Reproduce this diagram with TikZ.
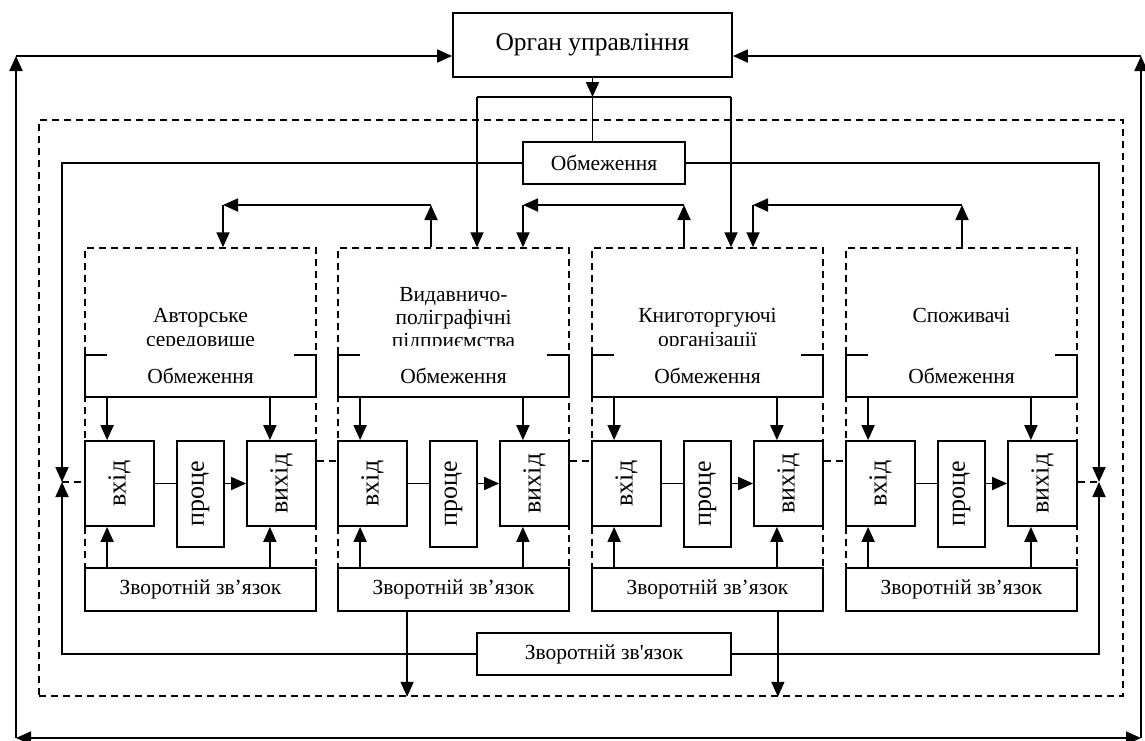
\documentclass[tikz,border=0pt]{standalone}
\usepackage{fontspec}
\setmainfont{Liberation Serif}
\newfontfamily\plainserif{Liberation Serif}
\usetikzlibrary{arrows.meta,calc}
\begin{document}
\begin{tikzpicture}[x=1pt,y=-1pt,
  ln/.style={line width=1.8pt},
  arr/.style={ln,-{Triangle[length=15pt,width=13pt]}},
  dbl/.style={ln,{Triangle[length=15pt,width=13pt]}-{Triangle[length=15pt,width=13pt]}},
  dsh/.style={line width=1.5pt,dash pattern=on 7pt off 5pt},
  box/.style={draw,line width=1.8pt,fill=white,inner sep=0pt,align=center,font=\fontsize{21.5}{24}\selectfont},
  vbox/.style={box,font=\fontsize{26}{28}\selectfont},
  title/.style={anchor=base,inner sep=0pt,font=\fontsize{21.5}{24}\selectfont},
]
\useasboundingbox (0,0) rectangle (1145,740);
% outer system boundary
\node[dsh,draw,minimum width=1084pt,minimum height=576pt,inner sep=0pt] (sys) at (581,408) {};
% control body
\node[box,minimum width=279pt,minimum height=64pt,font=\fontsize{25.5}{28}\selectfont] (organ) at (592.5,45) {Орган управління};
\node[box,minimum width=162pt,minimum height=42pt] (obm) at (604,163) {Обмеження};
\node[box,minimum width=254pt,minimum height=42pt] (zvb) at (604,654) {\plainserif Зворотній зв'язок};
% columns
\foreach \i/\L in {1/85,2/338,3/592,4/846}{
  \node[dsh,draw,minimum width=231pt,minimum height=363pt,inner sep=0pt] (col\i) at (\L+115.5,429.5) {};
  \node[box,minimum width=231pt,minimum height=42pt] (obm\i) at (\L+115.5,376) {Обмеження};
  \node[box,minimum width=231pt,minimum height=43pt] (zv\i) at (\L+115.5,589.5) {Зворотній зв’язок};
  \node[vbox,minimum width=69pt,minimum height=85pt] (vh\i) at (\L+34.5,483.5) {\rotatebox{90}{вхід}};
  \node[vbox,minimum width=47pt,minimum height=106pt] (pr\i) at (\L+115.5,494) {\rotatebox{90}{проце}};
  \node[vbox,minimum width=69pt,minimum height=85pt] (vy\i) at (\L+196.5,483.5) {\rotatebox{90}{вихід}};
  \fill[white] (\L+22,258) rectangle (\L+209,356.8);
  \draw[arr] ([xshift=23pt]obm\i.south west) -- ([xshift=23pt]vh\i.north west);
  \draw[arr] ([xshift=-47pt]obm\i.south east) -- ([xshift=-47pt]vy\i.north east);
  \draw[arr] ([xshift=23pt]zv\i.north west) -- ([xshift=23pt]vh\i.south west);
  \draw[arr] ([xshift=-47pt]zv\i.north east) -- ([xshift=-47pt]vy\i.south east);
  \draw[ln] (vh\i.east) -- (vh\i.east -| pr\i.west);
  \draw[arr] (pr\i.east |- vh\i.east) -- (vy\i.west);
}
% column titles (text box cuts the last line)
\begin{scope}
  \clip (107,258) rectangle (294,345) (360,258) rectangle (547,345) (614,258) rectangle (801,345) (868,258) rectangle (1055,345);
  \node[title] (t1a) at (200.5,322) {Авторське};
  \node[title] (t1b) at (200.5,346) {середовище};
  \node[title] (t2a) at (453.5,301) {Видавничо-};
  \node[title] (t2b) at (453.5,324) {поліграфічні};
  \node[title] (t2c) at (453.5,347) {підприємства};
  \node[title] (t3a) at (707.5,322) {Книготоргуючі};
  \node[title] (t3b) at (707.5,346) {організації};
  \node[title] (t4a) at (961.5,322) {Споживачі};
\end{scope}
% dashed links between columns
\foreach \a/\b in {1/2,2/3,3/4}{
  \draw[dsh] ([yshift=22.5pt]vy\a.east) -- ([yshift=22.5pt]vh\b.west);
}
% outer loop to control body
\coordinate (bl) at (16,738);
\coordinate (tl) at (16,56);
\coordinate (tr) at (1141,56);
\coordinate (br) at (1141,738);
\draw[arr] (bl) -- (tl);
\draw[arr] (tl) -- (tl -| organ.west);
\draw[arr] (br) -- (tr);
\draw[arr] (tr) -- (tr -| organ.east);
\draw[dbl] (bl) -- (br);
% control body outputs
\coordinate (j) at (592.5,97);
\coordinate (ja) at (477,97);
\coordinate (jb) at (731,97);
\draw[arr] (organ.south) -- (j);
\draw[ln] (ja) -- (jb);
\draw[ln] (j) -- (j |- obm.north);
\draw[arr] (ja) -- (ja |- col2.north);
\draw[arr] (jb) -- (jb |- col3.north);
% top links between columns
\foreach \u/\d/\cu/\cd in {431/223/2/1,684/523/3/2,962/753/4/3}{
  \coordinate (up\cu) at (\u,205);
  \coordinate (dn\cd) at (\d,205);
  \draw[arr] (up\cu |- col\cu.north) -- (up\cu);
  \draw[arr] (up\cu) -- (dn\cd);
  \draw[arr] (dn\cd) -- (dn\cd |- col\cd.north);
}
% left and right loops
\coordinate (lt) at (62,163);
\coordinate (lm) at (62,482);
\coordinate (lb) at (62,654);
\coordinate (rt) at (1099,163);
\coordinate (rm) at (1099,482);
\coordinate (rb) at (1099,654);
\draw[arr] (obm.west) -- (lt) -- (lm);
\draw[arr] (zvb.west) -- (lb) -- (lm);
\draw[arr] (obm.east) -- (rt) -- (rm);
\draw[arr] (zvb.east) -- (rb) -- (rm);
\draw[dsh] (lm) -- (lm -| vh1.west);
\draw[dsh] (vy4.east |- rm) -- (rm);
% feedback outputs
\draw[arr] ([xshift=70pt]zv2.south west) -- ([xshift=70pt]zv2.south west |- sys.south);
\draw[arr] ([xshift=-46pt]zv3.south east) -- ([xshift=-46pt]zv3.south east |- sys.south);
\end{tikzpicture}
\end{document}
